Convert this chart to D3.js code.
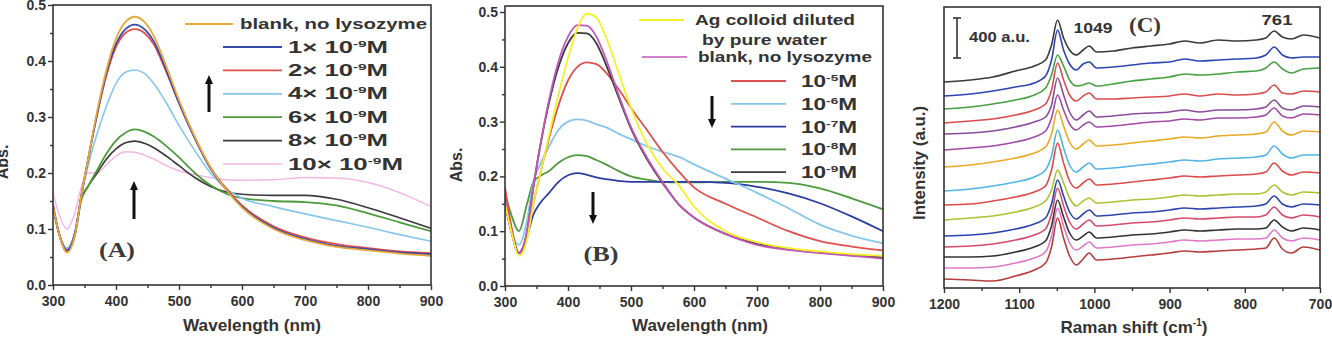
<!DOCTYPE html>
<html><head><meta charset="utf-8">
<script src="https://cdn.jsdelivr.net/npm/d3@7"></script>
<style>
body{margin:0;background:#fff}
svg text{font-family:"Liberation Sans",Arial,sans-serif;font-weight:bold;fill:#333}
</style></head>
<body><svg id="c" width="1332" height="345"></svg>
<script>
// ---------------- DATA ----------------
const wavelengths = [300,310,322,335,345,355,370,385,400,415,430,445,460,480,500,525,550,575,600,650,700,750,800,850,900];

// Panel A (lysozyme 1-10 x 10^-9 M)
const aBlank = [0.14,0.09,0.058,0.09,0.16,0.22,0.31,0.385,0.44,0.47,0.479,0.47,0.445,0.39,0.33,0.265,0.21,0.17,0.138,0.1,0.08,0.068,0.062,0.056,0.052];
const a1 = [0.14,0.09,0.062,0.092,0.16,0.22,0.305,0.38,0.43,0.457,0.465,0.457,0.435,0.383,0.325,0.262,0.208,0.17,0.14,0.102,0.082,0.07,0.064,0.058,0.055];
const a2 = [0.145,0.09,0.06,0.092,0.16,0.22,0.305,0.375,0.425,0.45,0.457,0.45,0.43,0.38,0.325,0.263,0.21,0.172,0.142,0.105,0.085,0.073,0.066,0.06,0.057];
const a4 = [0.14,0.09,0.065,0.095,0.16,0.21,0.27,0.32,0.36,0.38,0.384,0.378,0.36,0.325,0.285,0.24,0.2,0.172,0.155,0.14,0.127,0.115,0.103,0.09,0.078];
const a6 = [0.14,0.09,0.06,0.09,0.152,0.175,0.205,0.235,0.258,0.272,0.278,0.274,0.265,0.248,0.228,0.2,0.178,0.163,0.155,0.15,0.148,0.142,0.128,0.112,0.096];
const a8 = [0.14,0.09,0.065,0.095,0.155,0.175,0.2,0.225,0.243,0.254,0.257,0.253,0.245,0.23,0.213,0.192,0.176,0.166,0.162,0.16,0.16,0.153,0.138,0.12,0.101];
const a10 = [0.165,0.125,0.1,0.13,0.175,0.2,0.2,0.215,0.23,0.238,0.237,0.232,0.225,0.213,0.204,0.197,0.192,0.188,0.187,0.188,0.192,0.191,0.183,0.165,0.14];
const legendA = ["blank, no lysozyme","1×","2×","4×","6×","8×","10×"];

// Panel B (lysozyme 10^-5 .. 10^-9 M)
const bWater = [0.15,0.1,0.055,0.085,0.15,0.2,0.275,0.35,0.415,0.47,0.497,0.49,0.455,0.39,0.325,0.26,0.215,0.185,0.145,0.1,0.08,0.069,0.063,0.058,0.055];
const bBlank = [0.16,0.1,0.06,0.1,0.18,0.25,0.34,0.41,0.455,0.476,0.475,0.455,0.415,0.35,0.29,0.235,0.19,0.15,0.125,0.095,0.075,0.066,0.06,0.055,0.05];
const b5 = [0.18,0.11,0.06,0.09,0.15,0.2,0.27,0.33,0.375,0.4,0.408,0.405,0.39,0.36,0.325,0.285,0.245,0.21,0.18,0.15,0.125,0.1,0.082,0.072,0.065];
const b6 = [0.15,0.1,0.075,0.12,0.19,0.22,0.255,0.285,0.3,0.304,0.302,0.295,0.29,0.278,0.268,0.255,0.245,0.236,0.222,0.196,0.17,0.142,0.112,0.092,0.078];
const b7 = [0.15,0.1,0.06,0.09,0.13,0.15,0.17,0.19,0.202,0.206,0.203,0.198,0.195,0.192,0.19,0.19,0.19,0.19,0.19,0.188,0.181,0.169,0.151,0.127,0.1];
const b8 = [0.17,0.13,0.1,0.15,0.19,0.2,0.21,0.225,0.235,0.239,0.237,0.23,0.222,0.21,0.2,0.194,0.19,0.189,0.189,0.19,0.19,0.188,0.178,0.16,0.14];
const b9 = [0.15,0.1,0.06,0.1,0.18,0.25,0.335,0.4,0.443,0.462,0.461,0.443,0.405,0.345,0.287,0.232,0.188,0.15,0.125,0.095,0.077,0.067,0.061,0.056,0.052];
const legendBExp = ["-5","-6","-7","-8","-9"];

// Panel C (Raman spectra, offset traces, a.u.)
const ramanShift = [1200,1165,1135,1105,1080,1065,1057,1049,1041,1033,1024,1015,1007,997,975,950,925,900,880,860,835,810,785,772,761,750,738,722,700];
const c01 = [2060,2080,2110,2170,2220,2280,2430,2680,2500,2380,2330,2380,2420,2360,2370,2400,2420,2440,2470,2450,2480,2470,2480,2500,2570,2510,2490,2530,2500];
const c02 = [1920,1940,1970,2010,2050,2120,2280,2580,2380,2240,2180,2240,2260,2200,2210,2230,2250,2260,2290,2270,2280,2290,2300,2330,2410,2330,2300,2310,2310];
const c03 = [1790,1810,1840,1880,1930,2000,2130,2330,2220,2080,2020,2030,2050,2020,2040,2070,2090,2110,2140,2130,2140,2160,2170,2200,2260,2190,2150,2190,2200];
const c04 = [1650,1670,1690,1730,1780,1840,1980,2250,2080,1930,1870,1920,1950,1890,1890,1900,1910,1920,1940,1920,1940,1930,1940,1960,2030,1950,1940,1970,1960];
const c05 = [1540,1550,1570,1610,1660,1710,1830,2100,1930,1760,1680,1730,1770,1710,1720,1740,1750,1760,1780,1760,1780,1780,1790,1810,1880,1800,1780,1820,1810];
const c06 = [1380,1400,1420,1460,1510,1570,1700,1930,1780,1640,1580,1630,1660,1610,1620,1640,1660,1670,1690,1680,1700,1700,1710,1730,1800,1720,1700,1740,1730];
const c07 = [1210,1230,1260,1300,1350,1410,1540,1780,1620,1460,1390,1440,1480,1420,1430,1450,1470,1490,1510,1500,1520,1530,1540,1560,1660,1570,1530,1570,1560];
const c08 = [970,990,1020,1060,1110,1180,1320,1580,1400,1230,1160,1210,1250,1190,1200,1220,1240,1260,1280,1270,1290,1300,1310,1330,1420,1340,1300,1330,1330];
const c09 = [830,840,870,910,960,1020,1180,1450,1250,1070,1000,1050,1090,1030,1040,1060,1080,1100,1120,1110,1120,1130,1140,1160,1250,1170,1130,1160,1150];
const c10 = [680,700,720,760,810,870,980,1180,1050,900,820,870,900,850,860,880,890,910,930,920,930,940,940,960,1030,960,930,960,950];
const c11 = [520,530,550,590,640,700,840,1080,920,760,690,740,780,720,730,750,760,780,800,790,800,810,820,840,920,840,810,840,830];
const c12 = [410,420,440,480,530,590,740,1000,820,660,590,640,680,620,630,650,660,680,700,690,700,710,710,730,810,730,700,730,710];
const c13 = [310,310,320,360,410,470,620,880,710,550,480,520,560,500,510,530,540,560,580,570,580,590,590,600,680,610,570,600,580];
const c14 = [200,200,210,250,300,360,520,800,620,450,380,420,460,400,410,430,440,460,480,470,480,490,490,500,580,500,470,500,480];
const c15 = [90,80,70,120,180,250,410,700,500,320,230,290,350,280,290,310,330,350,370,360,370,380,390,400,500,390,350,410,380];
const scaleBarTop = 2700;
const scaleBarAU = 400;

const absTicks = [0,0.1,0.2,0.3,0.4,0.5];
const absMinor = [0.05,0.15,0.25,0.35,0.45];
const wlTicks = [300,400,500,600,700,800,900];
const wlMinor = [350,450,550,650,750,850];
const ramanTicks = [1200,1100,1000,900,800,700];
const ramanMinor = [1150,1050,950,850,750];

// ---------------- DRAWING ----------------
const svg = d3.select('#c');
const FONT = '"Liberation Sans",Arial,sans-serif';
const INK = '#333';

function frame(x0,x1,y0,y1){
  svg.append('rect').attr('x',x0).attr('y',y0).attr('width',x1-x0).attr('height',y1-y0)
    .attr('fill','none').attr('stroke',INK).attr('stroke-width',1.6);
}
function styleAxis(g){
  g.attr('font-family',FONT).attr('font-size',14).attr('font-weight','bold');
  g.selectAll('line').attr('stroke',INK).attr('stroke-width',1.4);
  g.selectAll('.domain').remove();
  g.selectAll('text').attr('fill',INK);
}
function xAxis(scale,y,major,minor){
  svg.append('g').attr('transform',`translate(0,${y})`)
    .call(d3.axisBottom(scale).tickValues(minor).tickSize(3).tickFormat('')).call(styleAxis);
  svg.append('g').attr('transform',`translate(0,${y})`)
    .call(d3.axisBottom(scale).tickValues(major).tickSize(5).tickPadding(6).tickFormat(d3.format('d'))).call(styleAxis);
}
function yAxis(scale,x,major,minor){
  svg.append('g').attr('transform',`translate(${x},0)`)
    .call(d3.axisLeft(scale).tickValues(minor).tickSize(3).tickFormat('')).call(styleAxis);
  svg.append('g').attr('transform',`translate(${x},0)`)
    .call(d3.axisLeft(scale).tickValues(major).tickSize(5).tickPadding(2).tickFormat(d3.format('.1f'))).call(styleAxis);
}
function text(x,y,str,opt={}){
  const t = svg.append('text').attr('x',x).attr('y',y).text(str)
    .attr('font-size',opt.size||14).attr('text-anchor',opt.anchor||'start');
  if(opt.len) t.attr('textLength',opt.len).attr('lengthAdjust','spacingAndGlyphs');
  if(opt.serif) t.style('font-family','"Liberation Serif","Times New Roman",serif').style('font-weight','bold').style('fill','#3a3a3a');
  if(opt.rot) t.attr('transform',`rotate(-90,${x},${y})`);
  return t;
}
function supText(x,y,pre,sup,post,size,len){
  const t = svg.append('text').attr('x',x).attr('y',y).attr('font-size',size);
  t.append('tspan').text(pre);
  t.append('tspan').attr('dy',-6).attr('font-size',size*0.6).text(sup);
  t.append('tspan').attr('dy',6).text(post);
  if(len) t.attr('textLength',len).attr('lengthAdjust','spacingAndGlyphs');
  return t;
}
function arrow(x,yTail,yHead){
  const dir = yHead<yTail? 1 : -1; // 1 = pointing up
  svg.append('line').attr('x1',x).attr('x2',x).attr('y1',yTail).attr('y2',yHead+dir*7)
    .attr('stroke','#111').attr('stroke-width',3);
  svg.append('path').attr('d',`M${x-4},${yHead+dir*9}L${x+4},${yHead+dir*9}L${x},${yHead}Z`).attr('fill','#111');
}
function clip(id,x0,x1,y0,y1){
  svg.append('clipPath').attr('id',id).append('rect').attr('x',x0).attr('y',y0).attr('width',x1-x0).attr('height',y1-y0);
}

// ===== Panel A =====
const xA = d3.scaleLinear([300,900],[53,431]);
const yA = d3.scaleLinear([0,0.5],[285,5]);
clip('clipA',53,431,5,285);
const seriesA = [
  {v:a10,c:'#f2b6e2',w:1.4},{v:a8,c:'#3a3a3a',w:1.6},{v:a6,c:'#4c9a3c',w:1.8},
  {v:a4,c:'#86c6ee',w:1.6},{v:a2,c:'#e0504c',w:1.8},{v:a1,c:'#3848a8',w:1.8},{v:aBlank,c:'#eaa83a',w:1.8}
];
const lineA = d3.line().x((d,i)=>xA(wavelengths[i])).y(d=>yA(d)).curve(d3.curveMonotoneX);
seriesA.forEach(s=>svg.append('path').attr('d',lineA(s.v)).attr('fill','none').attr('stroke',s.c).attr('stroke-width',s.w).attr('clip-path','url(#clipA)'));
frame(53,431,5,285);
xAxis(xA,285,wlTicks,wlMinor);
yAxis(yA,53,absTicks,absMinor);
text(252,331,'Wavelength (nm)',{size:17,anchor:'middle',len:138});
text(8,162,'Abs.',{size:16,anchor:'middle',rot:true});
// legend A
const legAColors = ['#eaa83a','#3848a8','#e0504c','#86c6ee','#4c9a3c','#3a3a3a','#f2b6e2'];
legendA.forEach((lab,i)=>{
  if(i===0){
    svg.append('line').attr('x1',185).attr('x2',233).attr('y1',24).attr('y2',24).attr('stroke',legAColors[i]).attr('stroke-width',1.8);
    text(240,29,lab,{size:15,len:187});
  } else {
    const y = 47 + (i-1)*23.4;
    svg.append('line').attr('x1',223).attr('x2',282).attr('y1',y).attr('y2',y).attr('stroke',legAColors[i]).attr('stroke-width',i===6?1.4:1.8);
    supText(288,y+5.5,lab+' 10','-9','M',16,i===6?115:100);
  }
});
arrow(209,112,75);
arrow(134,219,181);
text(117,257,'(A)',{size:21,anchor:'middle',serif:true,len:36});

// ===== Panel B =====
const xB = d3.scaleLinear([300,900],[505,883]);
const yB = d3.scaleLinear([0,0.5],[286,12]);
clip('clipB',505,883,6,286);
const seriesB = [
  {v:b8,c:'#4c9a3c'},{v:b7,c:'#2c3ca2'},{v:b6,c:'#86c6ee'},{v:b5,c:'#e0504c'},
  {v:b9,c:'#3a3a3a'},{v:bBlank,c:'#c456b8'},{v:bWater,c:'#f4f02a'}
];
const lineB = d3.line().x((d,i)=>xB(wavelengths[i])).y(d=>yB(d)).curve(d3.curveMonotoneX);
seriesB.forEach(s=>svg.append('path').attr('d',lineB(s.v)).attr('fill','none').attr('stroke',s.c).attr('stroke-width',1.8).attr('clip-path','url(#clipB)'));
frame(505,883,6,286);
xAxis(xB,286,wlTicks,wlMinor);
yAxis(yB,505,absTicks,absMinor);
text(700,331,'Wavelength (nm)',{size:17,anchor:'middle',len:136});
text(462,165,'Abs.',{size:16,anchor:'middle',rot:true});
// legend B
svg.append('line').attr('x1',639).attr('x2',684).attr('y1',20).attr('y2',20).attr('stroke','#f4f02a').attr('stroke-width',1.8);
text(695,25,'Ag colloid diluted',{size:15,len:160});
text(702,45,'by pure water',{size:15,len:125});
svg.append('line').attr('x1',642).attr('x2',687).attr('y1',57).attr('y2',57).attr('stroke','#c456b8').attr('stroke-width',1.6);
text(698,62,'blank, no lysozyme',{size:15,len:174});
const legBColors = ['#e0504c','#86c6ee','#2c3ca2','#4c9a3c','#3a3a3a'];
legendBExp.forEach((e,i)=>{
  const y = 81 + i*22.8;
  svg.append('line').attr('x1',731).attr('x2',786).attr('y1',y).attr('y2',y).attr('stroke',legBColors[i]).attr('stroke-width',1.8);
  supText(801,y+6,'10',e,'M',16,56);
});
arrow(712,96,128);
arrow(593,192,224);
text(601,261,'(B)',{size:21,anchor:'middle',serif:true,len:35});

// ===== Panel C =====
const xC = d3.scaleLinear([1200,700],[944,1320]);
const yC = d3.scaleLinear([0,2810],[288,7]);
clip('clipC',944,1320,7,288);
const seriesC = [
  {v:c15,c:'#b83c3c'},{v:c14,c:'#e07ac8'},{v:c13,c:'#333333'},{v:c12,c:'#d84a6a'},
  {v:c11,c:'#2c44b0'},{v:c10,c:'#a8c432'},{v:c09,c:'#dc4a4a'},{v:c08,c:'#52b4e4'},
  {v:c07,c:'#eaaa24'},{v:c06,c:'#a24aa8'},{v:c05,c:'#8a4c9a'},{v:c04,c:'#dc4c4c'},
  {v:c03,c:'#46a042'},{v:c02,c:'#2c44b4'},{v:c01,c:'#3a3a3a'}
];
const lineC = d3.line().x((d,i)=>xC(ramanShift[i])).y(d=>yC(d)).curve(d3.curveMonotoneX);
seriesC.forEach(s=>svg.append('path').attr('d',lineC(s.v)).attr('fill','none').attr('stroke',s.c).attr('stroke-width',1.6).attr('clip-path','url(#clipC)'));
frame(944,1320,7,288);
xAxis(xC,288,ramanTicks,ramanMinor);
// Raman title with superscript
{
  const t = svg.append('text').attr('x',1134).attr('y',333).attr('text-anchor','middle').attr('font-size',17);
  t.append('tspan').text('Raman shift (cm');
  t.append('tspan').attr('dy',-7).attr('font-size',10).text('-1');
  t.append('tspan').attr('dy',7).text(')');
}
text(925,163,'Intensity (a.u.)',{size:16,anchor:'middle',rot:true,len:114});
// scale bar
{
  const y0 = yC(scaleBarTop), y1 = yC(scaleBarTop-scaleBarAU);
  svg.append('line').attr('x1',957).attr('x2',957).attr('y1',y0).attr('y2',y1).attr('stroke',INK).attr('stroke-width',1.6);
  svg.append('line').attr('x1',953).attr('x2',961).attr('y1',y0).attr('y2',y0).attr('stroke',INK).attr('stroke-width',1.6);
  svg.append('line').attr('x1',953).attr('x2',961).attr('y1',y1).attr('y2',y1).attr('stroke',INK).attr('stroke-width',1.6);
  text(969,42,'400 a.u.',{size:14,len:61});
}
text(1093,33,'1049',{size:15,anchor:'middle',len:39});
text(1145,32,'(C)',{size:21,anchor:'middle',serif:true,len:32});
text(1277,25,'761',{size:15,anchor:'middle',len:31});
</script></body></html>
